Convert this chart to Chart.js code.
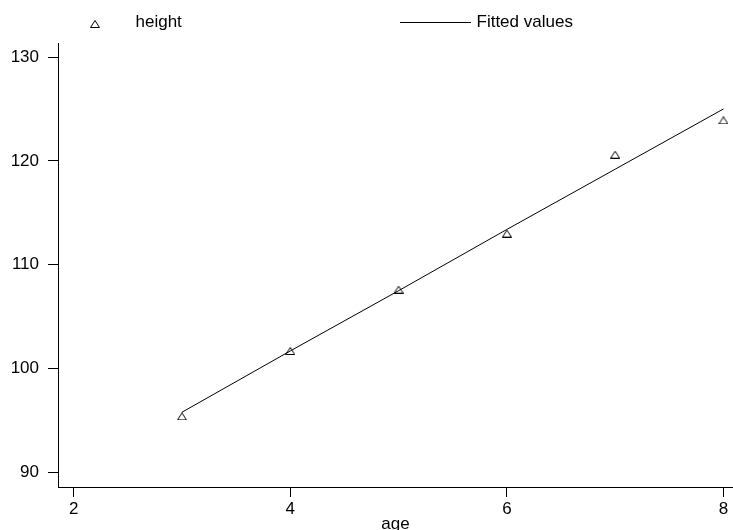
<!DOCTYPE html>
<html>
<head>
<meta charset="utf-8">
<script src="https://cdn.jsdelivr.net/npm/chart.js@4"></script>
<style>
  body { margin: 0; background: #fff; }
  #chart { display: block; }
</style>
</head>
<body>
<canvas id="chart" width="733" height="530"></canvas>
<script>
// values
const ages = [3, 4, 5, 6, 7, 8];
const heights = [95.4, 101.7, 107.6, 113.0, 120.6, 123.9];
const fittedValues = [95.8, 101.7, 107.5, 113.4, 119.2, 125.0];
const xTicks = [2, 4, 6, 8];
const yTicks = [90, 100, 110, 120, 130];

const FONT = { family: 'Liberation Sans, Arial, sans-serif', size: 17 };

// hollow triangle marker, a bit wider than tall
function makeTriangle() {
    const c = document.createElement('canvas');
    c.width = 10; c.height = 8;
    const g = c.getContext('2d');
    g.strokeStyle = '#000';
    g.lineWidth = 1;
    g.beginPath();
    g.moveTo(0.5, 7.5);
    g.lineTo(9.5, 7.5);
    g.lineTo(5, 0.5);
    g.closePath();
    g.stroke();
    return c;
}
const triangle = makeTriangle();

// legend drawn at the top, like the original
const topLegend = {
    id: 'topLegend',
    afterDraw(chart) {
        const ctx = chart.ctx;
        const ds = chart.data.datasets;
        ctx.save();
        ctx.font = FONT.size + 'px ' + FONT.family;
        ctx.fillStyle = '#000';
        ctx.textBaseline = 'alphabetic';
        ctx.textAlign = 'left';
        ctx.drawImage(triangle, 95 - 5, 24 - 4);
        ctx.fillText(ds[0].label, 135.5, 26.7);
        ctx.strokeStyle = '#000';
        ctx.lineWidth = 1;
        ctx.beginPath();
        ctx.moveTo(400, 22.5);
        ctx.lineTo(471, 22.5);
        ctx.stroke();
        ctx.fillText(ds[1].label, 476.5, 26.7);
        ctx.restore();
    }
};

new Chart(document.getElementById('chart'), {
    type: 'scatter',
    data: {
        datasets: [{
            label: 'height',
            data: ages.map((a, i) => ({ x: a, y: heights[i] })),
            pointStyle: triangle,
            pointRadius: 5,
            showLine: false
        }, {
            label: 'Fitted values',
            type: 'line',
            data: ages.map((a, i) => ({ x: a, y: fittedValues[i] })),
            borderColor: '#000',
            borderWidth: 1,
            pointRadius: 0,
            fill: false,
            tension: 0
        }]
    },
    options: {
        responsive: false,
        animation: false,
        layout: { autoPadding: false, padding: { top: 43, left: 0, right: 0, bottom: 0 } },
        plugins: { legend: { display: false }, tooltip: { enabled: false } },
        scales: {
            x: {
                type: 'linear',
                min: 1.855,
                max: 8.088,
                afterBuildTicks: s => { s.ticks = xTicks.map(v => ({ value: v })); },
                afterFit: s => { s.height = 43; s.paddingLeft = 0; s.paddingRight = 0; },
                grid: { drawOnChartArea: false, drawTicks: true, tickLength: 10, tickColor: '#000' },
                border: { display: true, color: '#000', width: 1 },
                ticks: { color: '#000', font: FONT, padding: 2, maxRotation: 0 },
                title: {
                    display: true, text: 'age', color: '#000',
                    font: { family: FONT.family, size: 17, lineHeight: 1 },
                    padding: { top: -3, bottom: -3 }
                }
            },
            y: {
                type: 'linear',
                min: 88.6,
                max: 131.35,
                afterBuildTicks: s => { s.ticks = yTicks.map(v => ({ value: v })); },
                afterFit: s => { s.width = 58; },
                grid: { drawOnChartArea: false, drawTicks: true, tickLength: 10, tickColor: '#000' },
                border: { display: true, color: '#000', width: 1 },
                ticks: { color: '#000', font: FONT, padding: 9 }
            }
        }
    },
    plugins: [topLegend]
});
</script>
</body>
</html>
